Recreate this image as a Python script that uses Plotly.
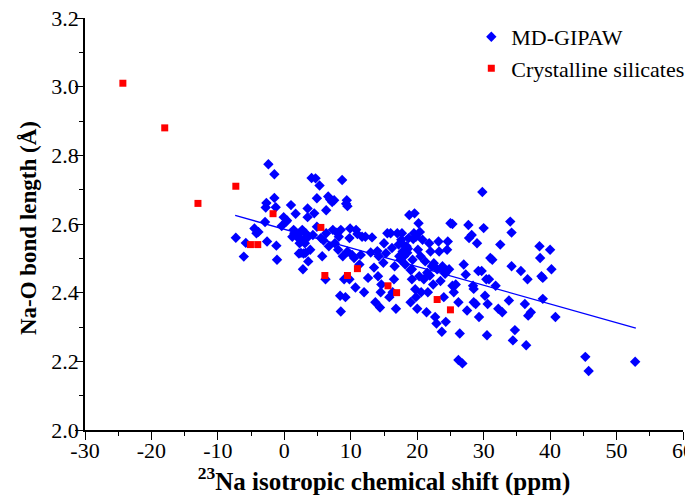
import plotly.graph_objects as go

# MD-GIPAW (blue diamonds)
md_x = [-7.3, -5.8, -6.1, -4.5, -4.2, -3.9, -2.9, -2.7, -2.6, -2.4, -2.8, -1.5, -1.5, -1.3, -1.2, -1.1,
        -0.1, 0.3, 0.4, -0.4, 1.0, 1.4, 1.5, 1.7, 1.9, 2.3, 2.5, 2.9, 3.2, 2.8, 2.9, 3.2, 3.5, 3.5, 3.6, 3.6,
        4.1, 4.7, 4.5, 4.9, 4.9, 5.3, 5.5, 5.7, 5.9, 6.3, 6.3, 6.2, 6.6, 6.9, 7.2, 7.5, 7.3, 7.6, 8.1, 8.5,
        8.7, 8.4, 8.5, 8.8, 9.0, 9.2, 9.3, 9.4, 9.5, 9.5, 9.8, 9.9, 9.8, 10.2, 10.5, 10.7, 10.8, 11.0, 11.3,
        11.5, 11.7, 12.0, 12.2, 12.6, 13.0, 13.2, 13.5, 13.7, 14.0, 14.1, 14.2, 14.4, 14.5, 14.6, 14.9, 15.0,
        15.3, 15.5, 15.8, 16.0, 16.2, 16.3, 16.5, 16.6, 16.8, 17.0, 17.2, 17.3, 17.5, 17.6, 17.7, 17.8, 18.0,
        18.2, 18.4, 18.5, 18.7, 18.8, 19.0, 19.2, 19.2, 19.3, 19.5, 19.6, 19.7, 19.8, 19.8, 20.0, 20.1, 20.2,
        20.3, 20.5, 20.6, 20.8, 21.0, 21.2, 21.4, 21.5, 21.6, 21.8, 22.0, 22.2, 22.4, 22.5, 22.7, 22.9, 23.0,
        23.2, 23.3, 23.5, 23.7, 23.8, 24.0, 24.3, 24.5, 24.6, 24.8, 25.0, 25.3, 25.3, 25.5, 25.8, 26.2, 26.4,
        26.2, 26.8, 27.0, 27.3, 27.5, 27.7, 27.8, 28.2, 28.4, 28.5, 28.5, 28.8, 29.0, 29.2, 29.3, 29.7, 29.8,
        30.0, 30.2, 30.4, 30.5, 30.6, 30.8, 31.0, 31.3, 31.8, 32.2, 32.5, 32.8, 33.8, 34.0, 34.2, 34.2, 34.4,
        34.7, 35.6, 36.2, 36.4, 36.6, 36.7, 37.1, 38.4, 38.5, 38.7, 38.9, 38.9, 40.0, 40.2, 40.8, 45.3, 45.8,
        52.8, 1.2, 2.0, 2.4, 2.7, 3.1, 2.2, 3.9, 4.3, 6.7, 7.9, 8.2, 18.1, 18.6, 19.4, 20.4, 17.9, 19.0, 21.9,
        23.6, 24.2]
md_y = [2.560, 2.545, 2.505, 2.587, 2.573, 2.577, 2.606, 2.661, 2.549, 2.774, 2.648, 2.745, 2.676, 2.649,
        2.537, 2.496, 2.620, 2.607, 2.610, 2.594, 2.655, 2.583, 2.573, 2.630, 2.563, 2.544, 2.516, 2.514,
        2.516, 2.468, 2.553, 2.573, 2.620, 2.645, 2.563, 2.491, 2.734, 2.733, 2.631, 2.592, 2.675, 2.712,
        2.559, 2.506, 2.552, 2.640, 2.573, 2.439, 2.680, 2.671, 2.664, 2.669, 2.583, 2.544, 2.525, 2.583,
        2.728, 2.391, 2.345, 2.506, 2.439, 2.387, 2.659, 2.669, 2.652, 2.520, 2.559, 2.587, 2.439, 2.510,
        2.501, 2.415, 2.583, 2.571, 2.482, 2.510, 2.563, 2.401, 2.563, 2.443, 2.517, 2.561, 2.473, 2.372,
        2.521, 2.448, 2.506, 2.357, 2.401, 2.424, 2.487, 2.544, 2.515, 2.573, 2.387, 2.573, 2.530, 2.401,
        2.439, 2.477, 2.353, 2.573, 2.540, 2.506, 2.496, 2.554, 2.573, 2.520, 2.506, 2.482, 2.535, 2.516,
        2.559, 2.626, 2.372, 2.468, 2.439, 2.496, 2.573, 2.631, 2.410, 2.563, 2.387, 2.353, 2.525, 2.602,
        2.448, 2.506, 2.401, 2.554, 2.439, 2.491, 2.343, 2.458, 2.401, 2.544, 2.520, 2.477, 2.424, 2.486,
        2.329, 2.310, 2.468, 2.549, 2.520, 2.434, 2.286, 2.477, 2.387, 2.315, 2.525, 2.549, 2.468, 2.602,
        2.600, 2.420, 2.401, 2.424, 2.372, 2.281, 2.204, 2.194, 2.482, 2.453, 2.348, 2.597, 2.559, 2.568,
        2.420, 2.411, 2.372, 2.367, 2.544, 2.463, 2.329, 2.463, 2.693, 2.588, 2.391, 2.439, 2.276, 2.367,
        2.439, 2.501, 2.496, 2.420, 2.353, 2.540, 2.343, 2.377, 2.607, 2.575, 2.477, 2.261, 2.291, 2.463,
        2.367, 2.247, 2.439, 2.333, 2.343, 2.535, 2.501, 2.448, 2.443, 2.382, 2.525, 2.468, 2.329, 2.213,
        2.172, 2.199, 2.563, 2.571, 2.559, 2.583, 2.544, 2.514, 2.525, 2.568, 2.535, 2.575, 2.563, 2.520,
        2.528, 2.556, 2.577, 2.540, 2.466, 2.450, 2.470, 2.455]

# Crystalline silicates (red squares)
cs_x = [-24.3, -18.0, -13.0, -7.3, -1.7, -5.1, -4.0, 5.5, 6.1, 9.5, 11.0, 15.6, 16.9, 23.0, 25.0]
cs_y = [3.01, 2.88, 2.66, 2.71, 2.63, 2.54, 2.54, 2.59, 2.45, 2.45, 2.47, 2.42, 2.40, 2.38, 2.35]

# Linear fit line endpoints
fit_x = [-7.4, 52.9]
fit_y = [2.625, 2.297]

# Tick labels
x_tick_vals = [-30, -20, -10, 0, 10, 20, 30, 40, 50, 60]
x_tick_text = ["-30", "-20", "-10", "0", "10", "20", "30", "40", "50", "60"]
y_tick_vals = [2.0, 2.2, 2.4, 2.6, 2.8, 3.0, 3.2]
y_tick_text = ["2.0", "2.2", "2.4", "2.6", "2.8", "3.0", "3.2"]

fig = go.Figure()
fig.add_trace(go.Scatter(x=fit_x, y=fit_y, mode="lines", line=dict(color="#0000ff", width=1.3),
                         showlegend=False, hoverinfo="skip"))
fig.add_trace(go.Scatter(x=md_x, y=md_y, mode="markers", name="MD-GIPAW",
                         marker=dict(symbol="diamond", size=8, color="#0000ff", line=dict(width=0))))
fig.add_trace(go.Scatter(x=cs_x, y=cs_y, mode="markers", name="Crystalline silicates",
                         marker=dict(symbol="square", size=7, color="#ff0000", line=dict(width=0))))

font_family = "Liberation Serif"
fig.update_layout(
    width=685, height=490,
    margin=dict(l=77, r=10, t=10, b=68, autoexpand=False),
    paper_bgcolor="white", plot_bgcolor="white",
    font=dict(family=font_family, size=22, color="black"),
    showlegend=True,
    legend=dict(x=0.646, y=1.005, xanchor="left", yanchor="top", bgcolor="rgba(0,0,0,0)",
                font=dict(family=font_family, size=22), itemwidth=30, tracegroupgap=0),
    xaxis=dict(range=[-30, 60], tickmode="array", tickvals=x_tick_vals, ticktext=x_tick_text,
               showgrid=False, zeroline=False, automargin=False,
               showline=True, linecolor="black", linewidth=1.5,
               ticks="outside", ticklen=8, tickwidth=1, tickcolor="black",
               ticklabelstandoff=-8, ticklabeloverflow="allow",
               minor=dict(dtick=5, tick0=-30, ticks="outside", ticklen=4, tickcolor="black", showgrid=False),
               tickfont=dict(family=font_family, size=22),
               title=dict(text="<b><sup>23</sup>Na isotropic chemical shift (ppm)</b>",
                          font=dict(family=font_family, size=25), standoff=0)),
    yaxis=dict(range=[2.0, 3.2], tickmode="array", tickvals=y_tick_vals, ticktext=y_tick_text,
               showgrid=False, zeroline=False, automargin=False,
               showline=True, linecolor="black", linewidth=1.5,
               ticks="outside", ticklen=8, tickwidth=1, tickcolor="black",
               ticklabelstandoff=-8, ticklabeloverflow="allow",
               minor=dict(dtick=0.1, tick0=2.0, ticks="outside", ticklen=4, tickcolor="black", showgrid=False),
               tickfont=dict(family=font_family, size=22)),
    annotations=[dict(text="<b>Na-O bond length (Å)</b>", textangle=-90,
                      xref="paper", yref="paper", x=0, y=0.49, xanchor="center", yanchor="middle",
                      xshift=-57, showarrow=False,
                      font=dict(family=font_family, size=23, color="black"))],
)

fig.write_html("out.html")
